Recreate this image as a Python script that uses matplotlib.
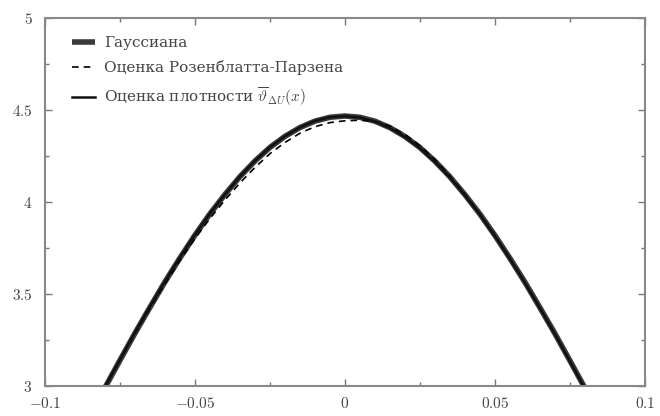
import matplotlib
matplotlib.use('Agg')
import matplotlib.pyplot as plt

# values
x_vals = [-0.085, -0.08, -0.075, -0.07, -0.065, -0.06, -0.055, -0.05, -0.045,
          -0.04, -0.035, -0.03, -0.025, -0.02, -0.015, -0.01, -0.005, 0.0,
          0.005, 0.01, 0.015, 0.02, 0.025, 0.03, 0.035, 0.04, 0.045, 0.05,
          0.055, 0.06, 0.065, 0.07, 0.075, 0.08, 0.085]

gauss = [2.840, 2.990, 3.139, 3.286, 3.427, 3.565, 3.695, 3.819, 3.935,
         4.040, 4.137, 4.222, 4.296, 4.356, 4.404, 4.439, 4.460, 4.467,
         4.460, 4.439, 4.404, 4.356, 4.296, 4.222, 4.137, 4.040, 3.935, 3.819,
         3.695, 3.565, 3.427, 3.286, 3.139, 2.990, 2.840]

parzen = [2.840, 2.990, 3.139, 3.284, 3.422, 3.555, 3.682, 3.800, 3.910,
          4.010, 4.103, 4.187, 4.262, 4.323, 4.373, 4.409, 4.431, 4.441,
          4.444, 4.438, 4.412, 4.367, 4.306, 4.230, 4.142, 4.043, 3.935, 3.818,
          3.693, 3.562, 3.424, 3.283, 3.136, 2.987, 2.837]

estimate = [2.845, 2.995, 3.143, 3.290, 3.431, 3.568, 3.698, 3.821, 3.937,
            4.041, 4.138, 4.223, 4.297, 4.357, 4.405, 4.440, 4.461, 4.466,
            4.459, 4.437, 4.402, 4.353, 4.293, 4.219, 4.134, 4.037, 3.932, 3.816,
            3.692, 3.562, 3.424, 3.283, 3.136, 2.987, 2.837]

x_ticks = [-0.1, -0.05, 0, 0.05, 0.1]
x_ticklabels = ['$-0.1$', '$-0.05$', '$0$', '$0.05$', '$0.1$']
y_ticks = [3, 3.5, 4, 4.5, 5]
y_ticklabels = ['$3$', '$3.5$', '$4$', '$4.5$', '$5$']

labels = ['Гауссиана', 'Оценка Розенблатта-Парзена',
          r'Оценка плотности $\overline{\vartheta}_{\Delta U}(x)$']

plt.rcParams['mathtext.fontset'] = 'cm'
plt.rcParams['font.family'] = ['DejaVu Serif']

fig = plt.figure(figsize=(6.6, 4.16), dpi=100)
ax = fig.add_axes([0.068, 0.072, 0.909, 0.885])

ax.plot(x_vals, gauss, color='#3a3a3a', lw=4, label=labels[0], solid_capstyle='butt')
ax.plot(x_vals, parzen, color='black', lw=1.2, ls=(0, (4, 3)), label=labels[1])
ax.plot(x_vals, estimate, color='#111111', lw=1.8, label=labels[2])

ax.set_xlim(-0.1, 0.1)
ax.set_ylim(3, 5)
ax.set_xticks(x_ticks)
ax.set_xticklabels(x_ticklabels)
ax.set_yticks(y_ticks)
ax.set_yticklabels(y_ticklabels)
ax.set_xticks([-0.075, -0.025, 0.025, 0.075], minor=True)
ax.set_yticks([3.25, 3.75, 4.25, 4.75], minor=True)

ax.tick_params(which='both', direction='in', top=True, right=True,
               colors='#777777', labelcolor='#444444', labelsize=11)
ax.tick_params(which='major', length=5, width=1)
ax.tick_params(which='minor', length=3, width=1)
ax.tick_params(axis='x', pad=7)
ax.tick_params(axis='y', pad=9)
for s in ax.spines.values():
    s.set_color('#888888')
    s.set_linewidth(1.5)

leg = ax.legend(loc='upper left', frameon=False, fontsize=11, handlelength=1.5,
                handletextpad=0.6, labelspacing=0.65, borderaxespad=0.8,
                bbox_to_anchor=(0.015, 1.0))
for t in leg.get_texts():
    t.set_color('#444444')

fig.savefig('out.png', dpi=100)
